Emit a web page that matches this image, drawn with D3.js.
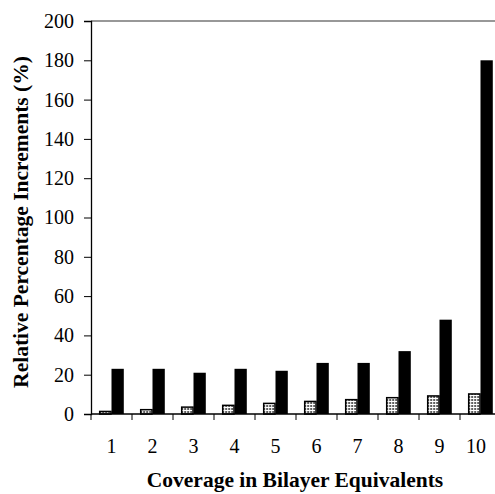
<!DOCTYPE html>
<html>
<head>
<meta charset="utf-8">
<script src="https://cdn.jsdelivr.net/npm/d3@7"></script>
<style>
  html, body { margin: 0; padding: 0; background: #fff; }
  svg { display: block; }
  text { font-family: "Liberation Serif", "Times New Roman", serif; fill: #000; }
</style>
</head>
<body>
<svg id="chart" width="495" height="494"></svg>
<script>
// Coverage steps (bilayer equivalents)
const categories = ["1", "2", "3", "4", "5", "6", "7", "8", "9", "10"];
// Relative increments (%) for the two measured quantities
const seriesA = [1.3, 2.2, 3.5, 4.4, 5.4, 6.4, 7.3, 8.3, 9.2, 10.2];
const seriesB = [23, 23, 21, 23, 22, 26, 26, 32, 48, 180];
const yTicks = [0, 20, 40, 60, 80, 100, 120, 140, 160, 180, 200];

const svg = d3.select("#chart");
const W = 495;
const plotL = 91, plotR = 501, plotT = 21, plotB = 414;

const x0 = d3.scaleBand().domain(categories).range([plotL, plotR])
  .paddingInner(0.4).paddingOuter(0.2);
const x1 = d3.scaleBand().domain(["a", "b"]).range([0, x0.bandwidth()]);
const y = d3.scaleLinear().domain([0, 200]).range([plotB, plotT]);
const step = x0.step();

// stippled grey fill
const defs = svg.append("defs");
const pat = defs.append("pattern").attr("id", "stipple")
  .attr("width", 3).attr("height", 3).attr("patternUnits", "userSpaceOnUse");
pat.append("rect").attr("width", 3).attr("height", 3).attr("fill", "#fff");
pat.append("rect").attr("width", 2).attr("height", 2).attr("fill", "#5e5e5e");

// top frame line
svg.append("line").attr("x1", plotL).attr("x2", plotR).attr("y1", plotT).attr("y2", plotT)
  .attr("stroke", "#333").attr("stroke-width", 1.2);

const groups = svg.append("g").selectAll("g").data(categories).join("g")
  .attr("transform", d => `translate(${x0(d)},0)`);

groups.append("rect")
  .attr("x", x1("a") + 0.5)
  .attr("y", (d, i) => y(seriesA[i]))
  .attr("width", x1.bandwidth() - 1)
  .attr("height", (d, i) => plotB - y(seriesA[i]))
  .attr("fill", "url(#stipple)").attr("stroke", "#000").attr("stroke-width", 1.5);

groups.append("rect")
  .attr("x", x1("b"))
  .attr("y", (d, i) => y(seriesB[i]))
  .attr("width", x1.bandwidth())
  .attr("height", (d, i) => plotB - y(seriesB[i]))
  .attr("fill", "#000");

// y axis
const yAxis = d3.axisLeft(y).tickValues(yTicks).tickSize(7).tickPadding(10);
const gy = svg.append("g").attr("transform", `translate(${plotL},0)`).call(yAxis);
gy.select(".domain").attr("stroke", "#000").attr("stroke-width", 1.3);
gy.selectAll(".tick line").attr("stroke", "#000");
gy.selectAll(".tick text").style("font-size", "20px")
  .style("font-family", "'Liberation Serif', serif").attr("fill", "#000");

// x axis: baseline, boundary ticks and centred labels
svg.append("line").attr("x1", plotL).attr("x2", plotR).attr("y1", plotB).attr("y2", plotB)
  .attr("stroke", "#000").attr("stroke-width", 1.3);
const bounds = categories.map(c => x0(c) - step * 0.2).concat([plotR]);
svg.append("g").selectAll("line").data(bounds).join("line")
  .attr("x1", d => d).attr("x2", d => d)
  .attr("y1", plotB).attr("y2", plotB + 6)
  .attr("stroke", "#000").attr("stroke-width", 1);
const xl = svg.append("g").selectAll("text").data(categories).join("text")
  .attr("y", 453)
  .attr("text-anchor", "middle")
  .style("font-size", "20px")
  .text(d => d);
// keep each label inside the visible width
xl.attr("x", function (d) {
  const half = this.getComputedTextLength() / 2;
  return Math.min(x0(d) + x0.bandwidth() / 2, W - 9 - half);
});

// axis titles
svg.append("text")
  .attr("x", 295).attr("y", 487)
  .attr("text-anchor", "middle")
  .style("font-size", "21.5px").style("font-weight", "bold")
  .text("Coverage in Bilayer Equivalents");

svg.append("text")
  .attr("transform", "translate(28,222) rotate(-90)")
  .attr("text-anchor", "middle")
  .style("font-size", "21.5px").style("font-weight", "bold")
  .text("Relative Percentage Increments (%)");
</script>
</body>
</html>
